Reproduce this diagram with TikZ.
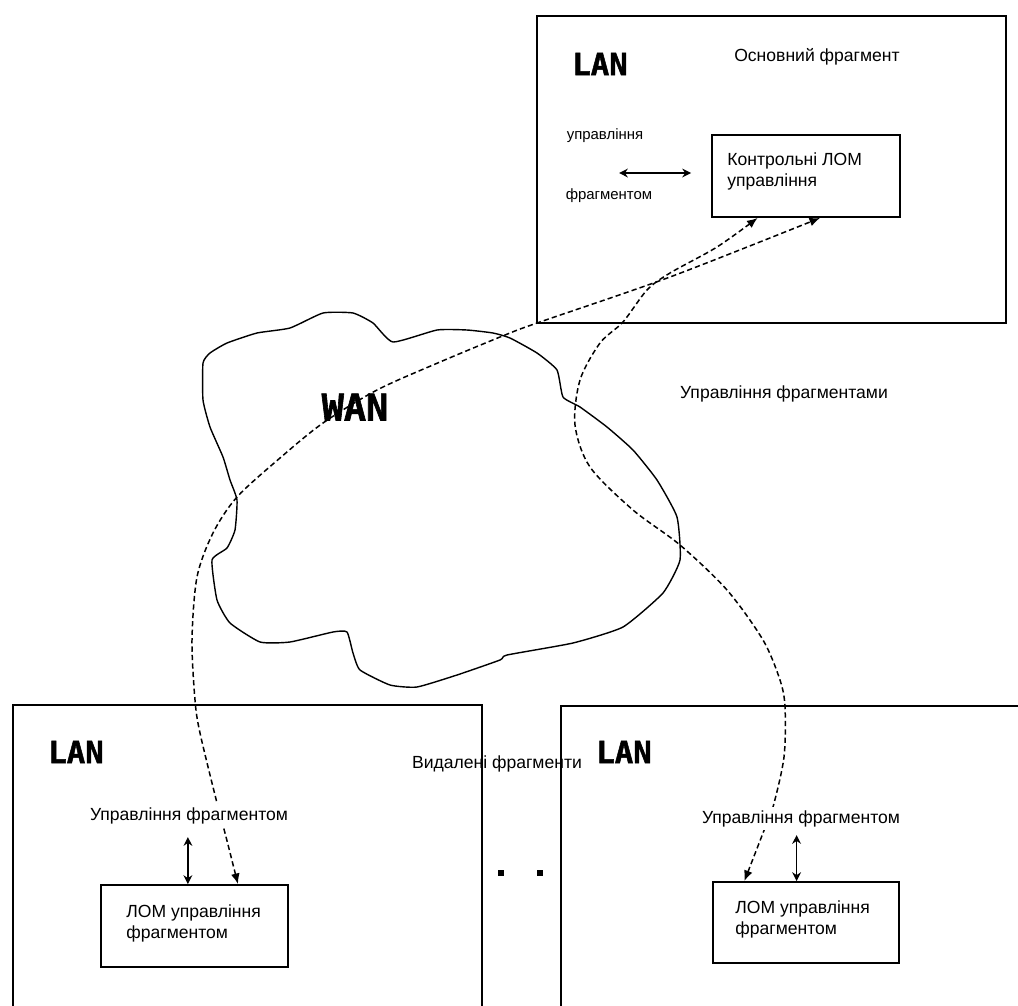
\documentclass[tikz,border=0pt]{standalone}
\usepackage{fontspec}
\setmainfont{Liberation Sans}
\newfontfamily\netfont{DejaVu Sans Mono}[BoldFeatures={FakeBold=1.6}]
\usetikzlibrary{arrows.meta,calc}
\begin{document}
\begin{tikzpicture}[x=0.02cm,y=-0.02cm,
  frame/.style={draw,line width=1.1pt,inner sep=0pt,anchor=center},
  netlabel/.style={font=\netfont\bfseries\fontsize{17.5}{20}\selectfont,inner sep=0pt},
  txt/.style={font=\fontsize{10}{12}\selectfont,inner sep=0pt},
  boxtxt/.style={font=\fontsize{10}{12}\selectfont,inner sep=0pt,align=left,anchor=north west},
  smalltxt/.style={font=\fontsize{8.5}{10}\selectfont,inner sep=0pt},
  masktxt/.style={txt,fill=white,inner sep=2pt},
  link/.style={line width=0.85pt,dash pattern=on 3pt off 1.8pt,
    {Latex[length=6pt,width=5pt]}-{Latex[length=6pt,width=5pt]}},
  dbl/.style={line width=0.85pt,{Stealth[length=5pt,width=5pt]}-{Stealth[length=5pt,width=5pt]}},
  cloudline/.style={line width=0.8pt,line join=round},
  dotmark/.style={fill=black,inner sep=0pt,minimum size=6*0.02cm}
]
\useasboundingbox (0,0) rectangle (1018,1005);
\fill[white] (0,0) rectangle (1018,1005);
\clip (0,0) rectangle (1018,1005);

% WAN cloud
\draw[cloudline] plot[smooth cycle,tension=0.3] coordinates {
  (323,313) (353,313) (373,323) (393,342) (437,330) (467,330) (493,333)
  (510,338) (537,353) (557,370) (563,397) (580,407) (607,427) (633,450)
  (657,480) (677,517) (680,560) (663,593) (623,627) (573,643) (507,655)
  (500,660) (457,675) (417,687) (390,685) (360,670) (353,653) (347,632)
  (333,632) (290,642) (260,642) (230,623) (217,600) (212,560) (227,548)
  (235,530) (237,500) (230,480) (223,457) (210,427) (203,400) (203,363)
  (210,353) (227,343) (257,333) (290,328)};
\node[font=\netfont\bfseries\fontsize{21}{24}\selectfont,inner sep=0pt] (wan) at (355,407) {WAN};

% caption between the two remote LANs
\node[txt,anchor=base] (remote) at (497,768) {Видалені фрагменти};

% main LAN
\node[frame,minimum width=9.38cm,minimum height=6.14cm] (lanTop) at (771.5,169.5) {};
\node[frame,minimum width=3.76cm,minimum height=1.64cm] (ctrl) at (806,176) {};
\node[boxtxt] (ctrlTxt) at (727,152) {Контрольні ЛОМ\\управління};
\node[netlabel] (lanTopLbl) at (600,64) {LAN};
\node[txt,anchor=base] (mainLbl) at (817,61) {Основний фрагмент};
\node[smalltxt,anchor=base] (mgmtA) at (605,139) {управління};
\node[smalltxt,anchor=base] (mgmtB) at (609,199) {фрагментом};
\coordinate (hA) at ($(ctrl.west)+(-20,-3)$);
\draw[dbl] (hA) -- ++(-72,0) coordinate (hB);

% remote LAN, left
\node[frame,minimum width=9.38cm,minimum height=6.5cm] (lanL) at (247.5,867.5) {};
\node[frame,minimum width=3.74cm,minimum height=1.64cm] (lomA) at (194.5,926) {};
\node[boxtxt] (lomATxt) at (126,904) {ЛОМ управління\\фрагментом};
\node[netlabel] (lanLLbl) at (76,752) {LAN};

% remote LAN, right
\node[frame,minimum width=9.38cm,minimum height=6.48cm] (lanR) at (795.5,868) {};
\node[frame,minimum width=3.72cm,minimum height=1.62cm] (lomB) at (806,922.5) {};
\node[boxtxt] (lomBTxt) at (735,900) {ЛОМ управління\\фрагментом};
\node[netlabel] (lanRLbl) at (624,752) {LAN};

% ellipsis between remote LANs
\node[dotmark] (dotA) at (501,873) {};
\node[dotmark] (dotB) at (540,873) {};

% links across the WAN
\coordinate (aS) at ($(lomA.north west)!0.73!(lomA.north east)$);
\coordinate (aE) at ($(ctrl.south west)!0.574!(ctrl.south east)$);
\coordinate (bS) at ($(lomB.north west)!0.172!(lomB.north east)$);
\coordinate (bE) at ($(ctrl.south west)!0.245!(ctrl.south east)$);
\draw[link] plot[smooth,tension=0.5] coordinates {
  (aS) (225,833) (217,803) (200,733) (195,700) (192,640) (197,577)
  (213,533) (237,497) (280,458) (323,423) (377,390) (440,362) (505,335)
  (537,323) (670,277) (aE)};
\draw[link] plot[smooth,tension=0.5] coordinates {
  (bS) (763,833) (773,807) (784,757) (785,707) (780,680) (763,640)
  (727,590) (680,545) (633,510) (590,467) (575,425) (580,380) (600,343)
  (623,322) (647,290) (670,273) (717,247) (bE)};

% local management arrows
\coordinate (uA) at ($(lomA.north west)!0.465!(lomA.north east)$);
\draw[dbl] (uA) -- ++(0,-47) coordinate (uA2);
\coordinate (uB) at ($(lomB.north west)!0.45!(lomB.north east)$);
\draw[dbl] (uB) -- ++(0,-46) coordinate (uB2);

% labels over the links
\node[masktxt,anchor=base] (fragL) at (189,820) {Управління фрагментом};
\node[masktxt,anchor=base] (fragR) at (801,823) {Управління фрагментом};
\node[txt,anchor=base] (fragMgmt) at (784,398) {Управління фрагментами};
\end{tikzpicture}
\end{document}
